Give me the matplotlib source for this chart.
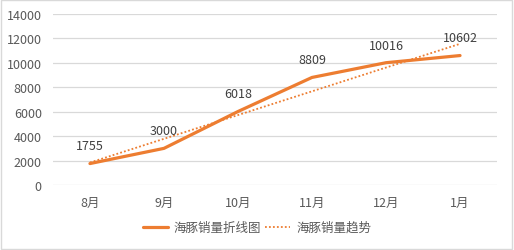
import matplotlib.pyplot as plt
import numpy as np
from matplotlib.patches import Rectangle

plt.rcParams['font.family'] = ['Noto Sans CJK SC', 'DejaVu Sans']

months = ['8月', '9月', '10月', '11月', '12月', '1月']
sales = [1755, 3000, 6018, 8809, 10016, 10602]
yticks = [0, 2000, 4000, 6000, 8000, 10000, 12000, 14000]

orange = '#ED7D31'
txt = '#595959'
grid = '#D9D9D9'

fig = plt.figure(figsize=(5.14, 2.51), dpi=100)
ax = fig.add_axes([0.103, 0.259, 0.864, 0.681])

x = np.arange(len(months))
ax.plot(x, sales, color=orange, lw=2.3, solid_capstyle='round',
        label='海豚销量折线图', zorder=3)

# linear trend line (like excel)
k, b = np.polyfit(x, sales, 1)
ax.plot(x, k * x + b, color=orange, lw=1.3, ls=(0, (1, 1.2)),
        label='海豚销量趋势', zorder=2)

for xi, v in zip(x, sales):
    ax.annotate(str(v), (xi, v), xytext=(0, 8), textcoords='offset points',
                ha='center', va='bottom', fontsize=9, color='#404040')

ax.set_xlim(-0.5, len(months) - 0.5)
ax.set_ylim(0, 14000)
ax.set_yticks(yticks)
ax.set_yticklabels([str(t) for t in yticks])
ax.set_xticks(x)
ax.set_xticklabels(months)
ax.grid(axis='y', color=grid, lw=0.9)
ax.set_axisbelow(True)
for s in ax.spines.values():
    s.set_visible(False)
ax.tick_params(length=0, colors=txt, labelsize=9)
ax.tick_params(axis='x', pad=8)
ax.tick_params(axis='y', pad=8)

leg = fig.legend(loc='center', bbox_to_anchor=(0.5, 0.09), ncol=2, frameon=False,
                 fontsize=9, handlelength=2.0, columnspacing=0.3, handletextpad=0.5)
for t in leg.get_texts():
    t.set_color(txt)

fig.patches.append(Rectangle((0.002, 0.004), 0.995, 0.992, transform=fig.transFigure,
                             fill=False, edgecolor='#D9D9D9', lw=1))

fig.savefig('out.png', dpi=100)
